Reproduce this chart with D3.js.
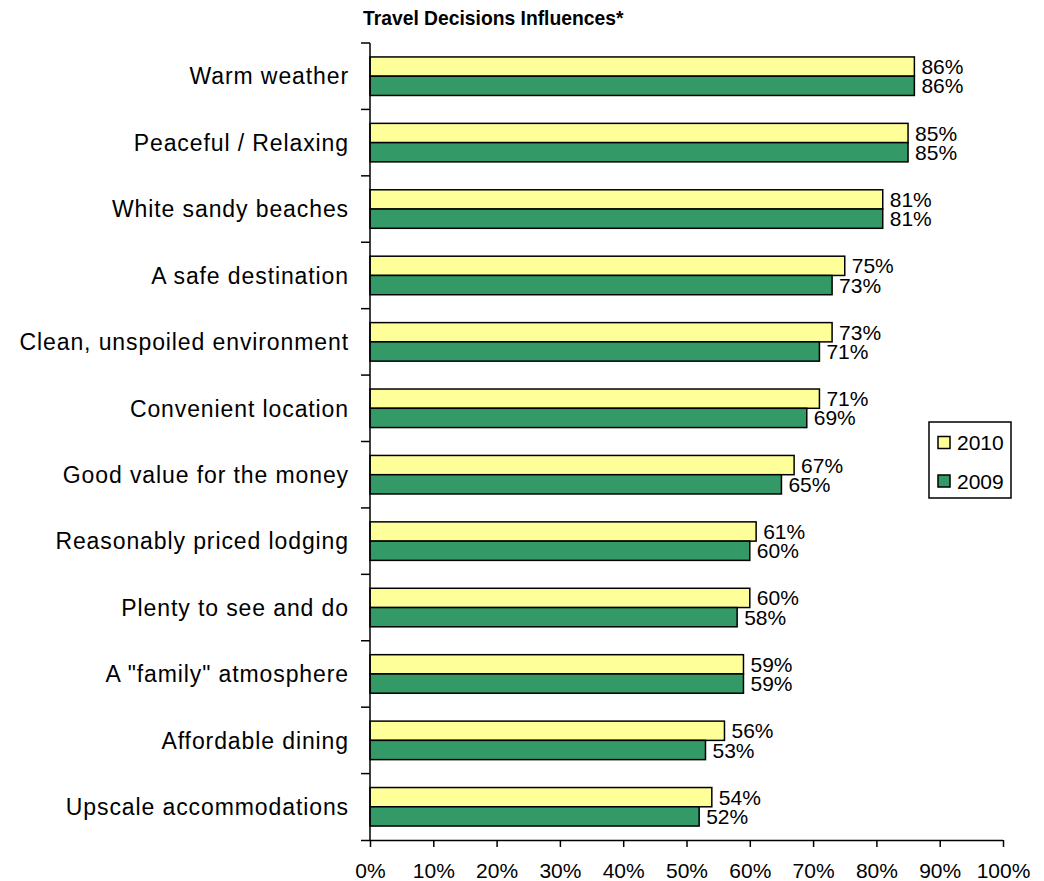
<!DOCTYPE html>
<html>
<head>
<meta charset="utf-8">
<script src="https://cdn.jsdelivr.net/npm/d3@7"></script>
<style>
  body { margin: 0; background: #fff; }
  svg { display: block; font-family: "Liberation Sans", Arial, sans-serif; }
</style>
</head>
<body>
<svg id="chart" width="1044" height="881"></svg>
<script>
const categories = [
  "Warm weather",
  "Peaceful / Relaxing",
  "White sandy beaches",
  "A safe destination",
  "Clean, unspoiled environment",
  "Convenient location",
  "Good value for the money",
  "Reasonably priced lodging",
  "Plenty to see and do",
  "A \"family\" atmosphere",
  "Affordable dining",
  "Upscale accommodations"
];
const values2010 = [86, 85, 81, 75, 73, 71, 67, 61, 60, 59, 56, 54];
const values2009 = [86, 85, 81, 73, 71, 69, 65, 60, 58, 59, 53, 52];
const seriesNames = ["2010", "2009"];
const seriesColors = ["#FFFF99", "#339966"];
const xTicks = [0, 10, 20, 30, 40, 50, 60, 70, 80, 90, 100];
const chartTitle = "Travel Decisions Influences*";

(function () {
const svg = d3.select("#chart");
const pLeft = 370, pRight = 1003, pTop = 43, pBottom = 840;

const x = d3.scaleLinear().domain([0, 100]).range([pLeft, pRight]);
const y = d3.scaleBand().domain(categories).range([pTop, pBottom]).paddingInner(0.42).paddingOuter(0.21);
const sub = d3.scaleBand().domain(seriesNames).range([0, y.bandwidth()]);

const series = [values2010, values2009];

svg.append("text")
  .attr("x", 363).attr("y", 25)
  .attr("font-size", 19.3).attr("font-weight", "bold")
  .text(chartTitle);

categories.forEach((c, i) => {
  series.forEach((vals, s) => {
    const g = svg.append("g");
    g.append("rect")
      .attr("x", x(0))
      .attr("y", y(c) + sub(seriesNames[s]))
      .attr("width", x(vals[i]) - x(0))
      .attr("height", sub.bandwidth())
      .attr("fill", seriesColors[s])
      .attr("stroke", "#000")
      .attr("stroke-width", 1.5);
    g.append("text")
      .attr("x", x(vals[i]) + 7)
      .attr("y", y(c) + sub(seriesNames[s]) + sub.bandwidth() / 2)
      .attr("dy", "0.36em")
      .attr("font-size", 21)
      .text(vals[i] + "%");
  });
});

const xAxis = d3.axisBottom(x).tickValues(xTicks).tickFormat(d => d + "%").tickSize(7).tickPadding(16);
const gx = svg.append("g").attr("transform", `translate(0,${pBottom})`).call(xAxis);
gx.select(".domain").attr("stroke", "#000").attr("stroke-width", 1.5).attr("d", `M${pLeft - 9},0.5H${pRight}`);
gx.selectAll(".tick line").attr("stroke", "#000").attr("stroke-width", 1.5);
gx.selectAll(".tick text").attr("font-size", 21).attr("font-family", "Liberation Sans, Arial, sans-serif").attr("fill", "#000");

const boundaries = categories.map(c => y(c) - y.step() * y.paddingInner() / 2);
const gy = svg.append("g");
gy.append("line").attr("x1", pLeft).attr("x2", pLeft).attr("y1", pTop).attr("y2", pBottom).attr("stroke", "#000").attr("stroke-width", 1.5);
gy.selectAll("line.tk").data(boundaries).join("line").attr("class", "tk")
  .attr("x1", pLeft - 9).attr("x2", pLeft).attr("y1", d => d).attr("y2", d => d)
  .attr("stroke", "#000").attr("stroke-width", 1.5);
gy.selectAll("text").data(categories).join("text")
  .attr("x", 349).attr("y", d => y(d) + y.bandwidth() / 2)
  .attr("dy", "0.36em").attr("text-anchor", "end")
  .attr("font-size", 23)
  .attr("letter-spacing", 0.9)
  .text(d => d);

const lg = svg.append("g");
lg.append("rect").attr("x", 929).attr("y", 422).attr("width", 82).attr("height", 76)
  .attr("fill", "#fff").attr("stroke", "#000").attr("stroke-width", 1.5);
seriesNames.forEach((n, i) => {
  const cy = 442.5 + i * 38.5;
  lg.append("rect").attr("x", 938).attr("y", cy - 6).attr("width", 12).attr("height", 12)
    .attr("fill", seriesColors[i]).attr("stroke", "#000").attr("stroke-width", 1.5);
  lg.append("text").attr("x", 957).attr("y", cy).attr("dy", "0.36em").attr("font-size", 21).text(n);
});
})();
</script>
</body>
</html>
